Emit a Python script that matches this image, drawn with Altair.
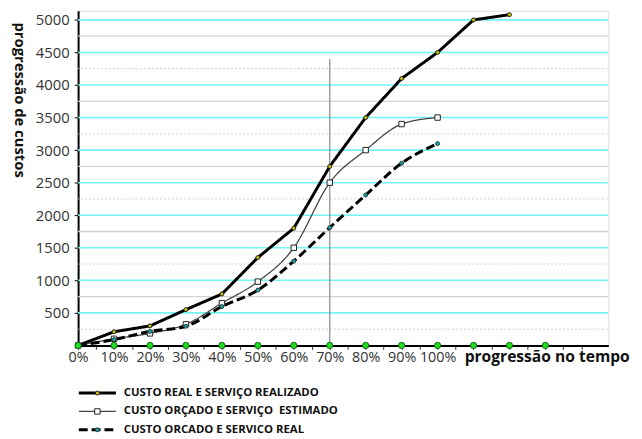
import altair as alt
import pandas as pd

# ---- data ----
tempo_pct = [0, 10, 20, 30, 40, 50, 60, 70, 80, 90, 100, 110, 120]
custo_real_realizado = [0, 210, 300, 550, 790, 1350, 1800, 2750, 3500, 4100, 4500, 5000, 5080]
custo_orcado_estimado = [0, 102, 185, 325, 650, 980, 1500, 2500, 3000, 3400, 3500]
custo_orcado_real = [0, 90, 215, 295, 598, 850, 1295, 1810, 2310, 2800, 3100]

series = [
    "CUSTO REAL E SERVIÇO REALIZADO",
    "CUSTO ORÇADO E SERVIÇO\u00a0 ESTIMADO",
    "CUSTO ORCADO E SERVICO REAL",
]
valores_series = [custo_real_realizado, custo_orcado_estimado, custo_orcado_real]

marcadores_tempo = [0, 10, 20, 30, 40, 50, 60, 70, 80, 90, 100, 110, 120, 130]
rotulos_y = [500, 1000, 1500, 2000, 2500, 3000, 3500, 4000, 4500, 5000]
ticks_x = list(range(0, 145, 5))
grade_cinza_solida = [750, 1750, 2750, 3750, 4750]
grade_cinza_pontilhada = [250, 1250, 2250, 3250, 4250]
linha_ref_x = 70
linha_ref_topo = 4400

rows = []
for nome, vals in zip(series, valores_series):
    for t, v in zip(tempo_pct, vals):
        rows.append({"tempo": t, "custo": v, "serie": nome, "serie_m": nome})
df = pd.DataFrame(rows)

FONT = "Open Sans"
xscale = alt.Scale(domain=[0, 147.5], nice=False, zero=False)
yscale = alt.Scale(domain=[0, 5141], nice=False, zero=False)

x_axis = alt.Axis(
    values=ticks_x,
    labelExpr="datum.value % 10 == 0 && datum.value <= 100 ? datum.value + '%' : ''",
    grid=False, domainColor="#000", domainWidth=2, tickColor="#333", tickSize=4,
    labelFont=FONT, labelFontSize=14.5, labelColor="#333", labelPadding=1,
    labelOverlap=False, labelFlush=False,
    title="progressão no tempo", titleX=391, titleY=16, titleAlign="left",
    titleBaseline="alphabetic", titleFont=FONT, titleFontSize=15.8,
    titleFontWeight="bold", titleColor="#111",
)
y_axis = alt.Axis(
    values=rotulos_y, format="d", grid=False, domainColor="#000", domainWidth=2,
    tickColor="#000", tickSize=4, labelPadding=5,
    labelFont=FONT, labelFontSize=15, labelColor="#333",
    title="progressão de custos", titleAngle=90, titleX=-59, titleY=90,
    titleAlign="center", titleBaseline="middle", titleFont=FONT,
    titleFontSize=15, titleFontWeight="bold", titleColor="#111",
)

X = alt.X("tempo:Q", scale=xscale, axis=x_axis)
Y = alt.Y("custo:Q", scale=yscale, axis=y_axis)

leg_linhas = alt.Legend(
    title=None, orient="none", legendX=0, legendY=381.5, padding=0,
    symbolType="M-5.37,0H5.37", symbolSize=49, symbolOffset=13.75,
    labelOffset=21, labelFont=FONT, labelFontSize=11.5, labelFontWeight="bold",
    labelColor="#111", rowPadding=5.6, labelLimit=400,
)
leg_marc = alt.Legend(
    title=None, orient="none", legendX=0, legendY=381.5, padding=0,
    symbolOffset=13.75, labelFontSize=11.5, labelExpr="''", rowPadding=5.6,
    symbolStrokeWidth=1, symbolOpacity=1,
)

cor = alt.Color("serie:N", scale=alt.Scale(domain=series, range=["#000000", "#444444", "#000000"]), legend=leg_linhas)
tracejado = alt.StrokeDash("serie:N", scale=alt.Scale(domain=series, range=[[1, 0], [1, 0], [9, 4]]), legend=leg_linhas)
espessura = alt.StrokeWidth("serie:N", scale=alt.Scale(type="ordinal", domain=series, range=[3, 1.3, 3]), legend=leg_linhas)

base = alt.Chart(df)

# grid lines
grade_ciano = alt.Chart(pd.DataFrame({"custo": rotulos_y})).mark_rule(color="#74F4F4", strokeWidth=1.6).encode(y=Y)
grade_solida = alt.Chart(pd.DataFrame({"custo": grade_cinza_solida})).mark_rule(color="#d2d2d2", strokeWidth=1.3).encode(y=Y)
grade_pont = alt.Chart(pd.DataFrame({"custo": grade_cinza_pontilhada})).mark_rule(
    color="#cfcfcf", strokeWidth=1, strokeDash=[2, 2]).encode(y=Y)

linha_ref = alt.Chart(pd.DataFrame({"tempo": [linha_ref_x], "custo": [0], "custo_fim": [linha_ref_topo]})).mark_rule(
    color="#8a8a8a", strokeWidth=1.2).encode(x=X, y=Y, y2="custo_fim:Q")

interp = ["linear", "monotone", "monotone"]
linhas = []
for i, nome in enumerate(series):
    linhas.append(
        base.transform_filter(alt.FieldEqualPredicate(field="serie", equal=nome))
        .mark_line(interpolate=interp[i])
        .encode(x=X, y=Y, color=cor, strokeDash=tracejado, strokeWidth=espessura)
    )

pontos = base.mark_point(filled=True, strokeWidth=1, opacity=1).encode(
    x=X, y=Y,
    shape=alt.Shape("serie_m:N", sort="descending", scale=alt.Scale(range=["circle", "square", "circle"]), legend=leg_marc),
    fill=alt.Fill("serie_m:N", sort="descending", scale=alt.Scale(range=["#c8c800", "#ffffff", "#1aa3a3"]), legend=leg_marc),
    stroke=alt.Stroke("serie_m:N", sort="descending", scale=alt.Scale(range=["#222222", "#222222", "#1f3f3f"]), legend=leg_marc),
    size=alt.Size("serie_m:N", sort="descending", scale=alt.Scale(type="ordinal", range=[16, 30, 16]), legend=leg_marc),
)

verdes = alt.Chart(pd.DataFrame({"tempo": marcadores_tempo, "custo": [0] * len(marcadores_tempo)})).mark_point(
    filled=True, shape="circle", size=40, fill="#22dd22", stroke="#146414", strokeWidth=1, opacity=1
).encode(x=X, y=Y)

chart = alt.layer(
    grade_solida, grade_pont, grade_ciano, linha_ref, *linhas, pontos, verdes
).properties(
    width=537, height=339,
    padding={"left": 71, "top": 0, "right": 26, "bottom": 92},
    autosize=alt.AutoSizeParams(type="none"),
).configure_view(stroke=None).configure(background="white")

chart.save("out.html", embed_options={"renderer": "svg", "actions": False})
